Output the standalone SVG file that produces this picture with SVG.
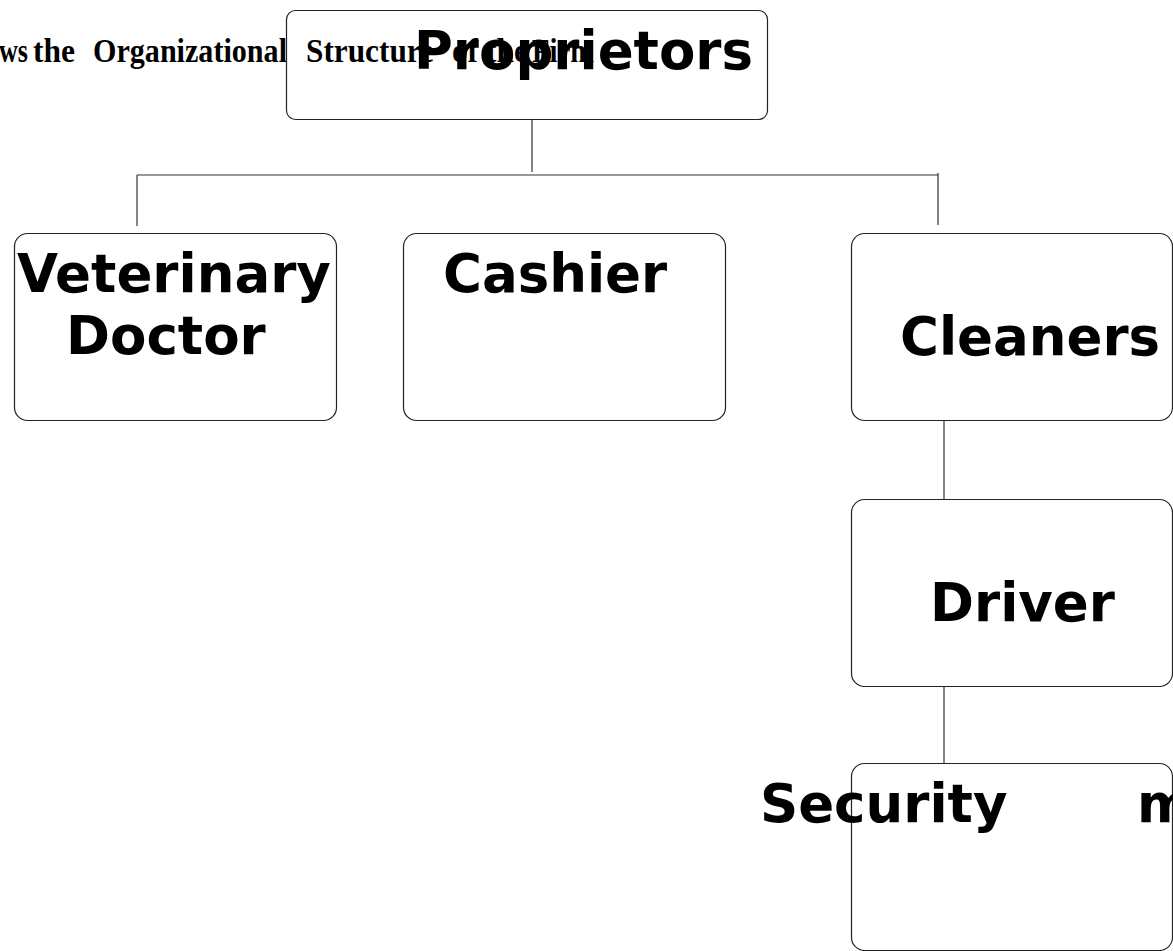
<svg xmlns="http://www.w3.org/2000/svg" width="1173" height="951" viewBox="0 0 1173 951">
<style>
.box{fill:none;stroke:#222;stroke-width:1.2}
.lbl{font-family:"DejaVu Sans",sans-serif;font-weight:bold;font-size:53px;fill:#000}
.title{font-family:"Liberation Serif",serif;font-weight:bold;font-size:33px;fill:#000}
.conn line{stroke:#333;stroke-width:1.2}
</style>
<rect width="1173" height="951" fill="#fff"/>
<text class="title" y="62" lengthAdjust="spacingAndGlyphs"><tspan x="-1" textLength="29" lengthAdjust="spacingAndGlyphs">ws</tspan> <tspan x="33" textLength="42" lengthAdjust="spacingAndGlyphs">the</tspan>  <tspan x="93" textLength="194" lengthAdjust="spacingAndGlyphs">Organizational</tspan> <tspan x="306" textLength="128" lengthAdjust="spacingAndGlyphs">Structure</tspan> <tspan x="452" textLength="26" lengthAdjust="spacingAndGlyphs">of</tspan> <tspan x="486" textLength="42" lengthAdjust="spacingAndGlyphs">the</tspan> <tspan x="532" textLength="62" lengthAdjust="spacingAndGlyphs">Firm</tspan></text>
<g class="conn" id="connectors">
<line x1="532" y1="119" x2="532" y2="172"/>
<line x1="137" y1="175" x2="938" y2="175"/>
<line x1="137" y1="175" x2="137" y2="226"/>
<line x1="938" y1="173" x2="938" y2="225"/>
<line x1="944" y1="420" x2="944" y2="499"/>
<line x1="944" y1="686" x2="944" y2="763"/>
</g>
<g id="proprietors">
<rect class="box" x="286.5" y="10.5" width="481" height="109" rx="9"/>
<text class="lbl" x="414" y="69">Proprietors</text>
</g>
<g id="veterinary-doctor">
<rect class="box" x="14.5" y="233.5" width="322" height="187" rx="13"/>
<text class="lbl" x="17" y="292">Veterinary</text>
<text class="lbl" x="66" y="354">Doctor</text>
</g>
<g id="cashier">
<rect class="box" x="403.5" y="233.5" width="322" height="187" rx="13"/>
<text class="lbl" x="443" y="292">Cashier</text>
</g>
<g id="cleaners">
<rect class="box" x="851.5" y="233.5" width="321" height="187" rx="13"/>
<text class="lbl" x="900" y="355">Cleaners</text>
</g>
<g id="driver">
<rect class="box" x="851.5" y="499.5" width="321" height="187" rx="13"/>
<text class="lbl" x="930" y="621">Driver</text>
</g>
<g id="security">
<rect class="box" x="851.5" y="763.5" width="321" height="187" rx="13"/>
<text class="lbl" x="760" y="822">Security<tspan x="1137">m</tspan></text>
</g>
</svg>
